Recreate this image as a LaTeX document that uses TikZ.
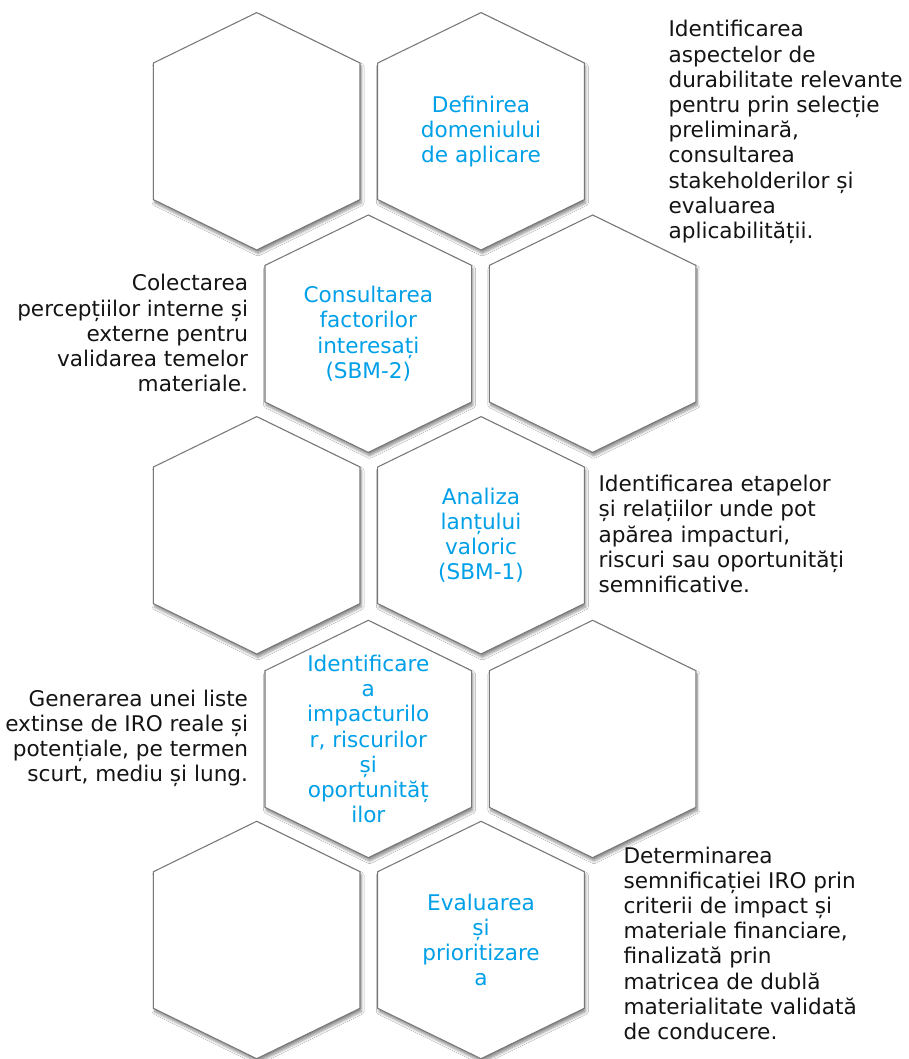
\documentclass[tikz,border=0pt]{standalone}
\usepackage{fontspec}
\setmainfont{DejaVu Sans}
\usetikzlibrary{shadows.blur}
\definecolor{hexgray}{RGB}{120,120,120}
\definecolor{hexblue}{RGB}{0,160,232}
\definecolor{desctext}{RGB}{20,20,20}
\newcommand\cellhex[1]{%
  \path[hexcell,shift={(#1)}] (0,-118.7) -- (103.3,-68.3) -- (103.3,68.3) -- (0,118.7) -- (-103.3,68.3) -- (-103.3,-68.3) -- cycle;}
\begin{document}
\begin{tikzpicture}[x=0.75pt,y=-0.75pt,
  hexcell/.style={draw=hexgray, line width=0.8pt, fill=white, line join=miter,
    blur shadow={shadow xshift=1pt, shadow yshift=-2.5pt, shadow blur steps=6, shadow opacity=45, shadow blur radius=2pt}},
  steptext/.style={text=hexblue, font=\fontsize{16.2}{18.9}\selectfont, align=center, inner sep=0pt},
  desc/.style={text=desctext, font=\fontsize{16.2}{18.9}\selectfont, inner sep=0pt}]
\useasboundingbox (0,0) rectangle (908,1059);
\fill[white] (0,0) rectangle (908,1059);
% centres
\coordinate (A1) at (256.7,131.3);
\coordinate (B1) at (481,131.3);
\coordinate (A2) at (368.3,333.7);
\coordinate (B2) at (592.6,333.7);
\coordinate (A3) at (256.7,535.3);
\coordinate (B3) at (481,535.3);
\coordinate (A4) at (368.3,739);
\coordinate (B4) at (592.6,739);
\coordinate (A5) at (256.7,940);
\coordinate (B5) at (481,940);
% hexagons
\cellhex{A1}\cellhex{B1}
\cellhex{A2}\cellhex{B2}
\cellhex{A3}\cellhex{B3}
\cellhex{A4}\cellhex{B4}
\cellhex{A5}\cellhex{B5}
% step labels
\node[steptext] (s1) at (B1) {Definirea\\domeniului\\de aplicare};
\node[steptext] (s2) at (A2) {Consultarea\\factorilor\\interesați\\(SBM-2)};
\node[steptext] (s3) at (B3) {Analiza\\lanțului\\valoric\\(SBM-1)};
\node[steptext] (s4) at (A4) {Identificare\\a\\impacturilo\\r, riscurilor\\și\\oportunităț\\ilor};
\node[steptext] (s5) at (B5) {Evaluarea\\și\\prioritizare\\a};
% descriptions
\node[desc, anchor=west, align=left] (d1) at (668.3,132) {Identificarea\\aspectelor de\\durabilitate relevante\\pentru prin selecție\\preliminară,\\consultarea\\stakeholderilor și\\evaluarea\\aplicabilității.};
\node[desc, anchor=east, align=right] (d2) at (248.3,333.3) {Colectarea\\percepțiilor interne și\\externe pentru\\validarea temelor\\materiale.};
\node[desc, anchor=west, align=left] (d3) at (598.3,534) {Identificarea etapelor\\și relațiilor unde pot\\apărea impacturi,\\riscuri sau oportunități\\semnificative.};
\node[desc, anchor=east, align=right] (d4) at (248.3,738.3) {Generarea unei liste\\extinse de IRO reale și\\potențiale, pe termen\\scurt, mediu și lung.};
\node[desc, anchor=west, align=left] (d5) at (623.3,943.3) {Determinarea\\semnificației IRO prin\\criterii de impact și\\materiale financiare,\\finalizată prin\\matricea de dublă\\materialitate validată\\de conducere.};
\end{tikzpicture}
\end{document}
